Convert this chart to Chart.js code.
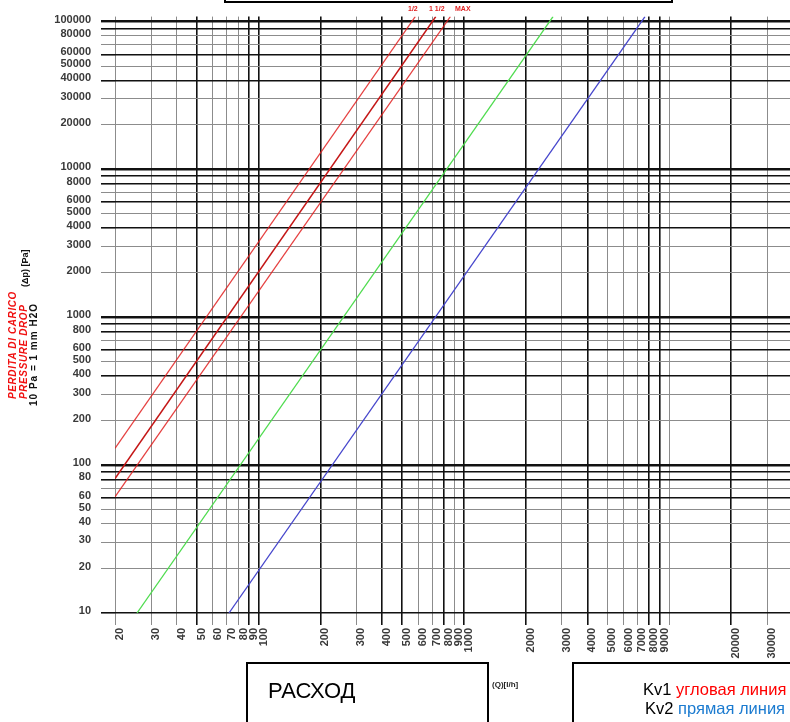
<!DOCTYPE html>
<html>
<head>
<meta charset="utf-8">
<script src="https://cdn.jsdelivr.net/npm/chart.js@4.4.0/dist/chart.umd.min.js"></script>
<style>
  body { margin: 0; background: #fff; font-family: "Liberation Sans", Arial, sans-serif; }
  #wrap { position: relative; width: 790px; height: 722px; overflow: hidden; }
  #chartBox { position: absolute; left: 0; top: 0; width: 790px; height: 722px; }
  .box { position: absolute; border: 2px solid #000; background: #fff; box-sizing: border-box; }
  .abs { position: absolute; white-space: nowrap; }
  .rot { transform-origin: 0 0; transform: rotate(-90deg); }
</style>
</head>
<body>
<div id="wrap">
  <div id="chartBox"><canvas id="myChart"></canvas></div>

  <div class="box" style="left:224px; top:-20px; width:449px; height:23px;"></div>
  <div class="abs" style="left:408px; top:5px; font:bold 7px 'Liberation Sans'; color:#e02020;">1/2</div>
  <div class="abs" style="left:429px; top:5px; font:bold 7px 'Liberation Sans'; color:#e02020;">1 1/2</div>
  <div class="abs" style="left:455px; top:5px; font:bold 7px 'Liberation Sans'; color:#e02020;">MAX</div>

  <div class="abs rot" style="left:8px; top:399px; font:italic bold 10px/10.5px 'Liberation Sans'; letter-spacing:0.6px;">
    <div style="color:#f01010;">PERDITA DI CARICO</div>
    <div style="color:#f01010;">PRESSURE DROP</div>
    <div style="color:#111; font-style:normal; letter-spacing:1px; margin-left:-7px;">10 Pa = 1 mm H2O</div>
  </div>
  <div class="abs rot" style="left:20px; top:287px; font:bold 9px 'Liberation Sans'; color:#111;">(Δp) [Pa]</div>

  <div class="box" style="left:246px; top:662px; width:243px; height:80px;"></div>
  <div class="abs" style="left:268px; top:678px; font:22px 'Liberation Sans'; color:#000;">РАСХОД</div>
  <div class="abs" style="left:492px; top:680px; font:bold 8px 'Liberation Sans'; color:#222;">(Q)[l/h]</div>

  <div class="box" style="left:572px; top:662px; width:240px; height:80px;"></div>
  <div class="abs" style="left:643px; top:680px; font:16.5px 'Liberation Sans'; color:#000;">Kv1 <span style="color:#ff0000;">угловая линия</span></div>
  <div class="abs" style="left:645px; top:699px; font:16.5px 'Liberation Sans'; color:#000;">Kv2 <span style="color:#1b7bd0;">прямая линия</span></div>
</div>

<script>
// flow Q [l/h] and pressure drop dp [Pa], read at both ends of each line
const lineNames = ["1/2", "1 1/2", "MAX", "green", "blue"];
const flowStart = [20, 20, 20, 25.6, 71.8];
const flowEnd = [580, 730, 860, 2720, 7630];
const dropStart = [130, 81, 61, 10, 10];
const dropEnd = [108000, 108000, 108000, 108000, 108000];
const lineColors = ["rgba(225,30,30,0.85)", "#c41616", "rgba(225,30,30,0.85)", "#4fdc4f", "#4646cc"];
const lineWidths = [1.2, 1.6, 1.2, 1.3, 1.3];

const xTickLabels = [20, 30, 40, 50, 60, 70, 80, 90, 100, 200, 300, 400, 500, 600, 700, 800, 900, 1000,
  2000, 3000, 4000, 5000, 6000, 7000, 8000, 9000, 20000, 30000];
const yTickLabels = [10, 20, 30, 40, 50, 60, 80, 100, 200, 300, 400, 500, 600, 800, 1000,
  2000, 3000, 4000, 5000, 6000, 8000, 10000, 20000, 30000, 40000, 50000, 60000, 80000, 100000];

const xBold = [50, 90, 100, 200, 400, 500, 800, 1000, 2000, 4000, 8000, 9000, 20000];
const yBold = [10, 60, 80, 90, 100, 400, 600, 800, 900, 1000, 4000, 6000, 8000, 9000, 10000,
  40000, 60000, 90000, 100000];
const yDecades = [100, 1000, 10000, 100000];

// grid lines at every 1..9 step of each decade
const xGrid = [];
for (let e = 1; e <= 4; e++) {
  for (let m = 1; m <= 9; m++) {
    const v = m * Math.pow(10, e);
    if (v >= 20 && v <= 30000) xGrid.push(v);
  }
}
const yGrid = [];
for (let e = 1; e <= 5; e++) {
  for (let m = 1; m <= 9; m++) {
    const v = m * Math.pow(10, e);
    if (v <= 100000) yGrid.push(v);
  }
}

const datasets = lineNames.map((name, i) => ({
  label: name,
  data: [{ x: flowStart[i], y: dropStart[i] }, { x: flowEnd[i], y: dropEnd[i] }],
  borderColor: lineColors[i],
  borderWidth: lineWidths[i],
  pointRadius: 0,
  tension: 0
}));

const tickFont = { family: "Liberation Sans", size: 11, weight: "bold" };

new Chart("myChart", {
  type: "line",
  data: { datasets: datasets },
  options: {
    responsive: true,
    maintainAspectRatio: false,
    animation: false,
    layout: { padding: { top: 13, left: 0, right: 0, bottom: 0 } },
    plugins: { legend: { display: false }, tooltip: { enabled: false } },
    scales: {
      x: {
        type: "logarithmic",
        min: 20,
        max: 38800,
        afterBuildTicks: s => { s.ticks = xGrid.map(v => ({ value: v })); },
        afterFit: s => { s.height = 109; },
        border: { display: false },
        grid: {
          color: c => xBold.includes(c.tick.value) ? "#111" : "#8c8c8c",
          tickColor: c => xBold.includes(c.tick.value) ? "#111" : "#8c8c8c",
          lineWidth: c => xBold.includes(c.tick.value) ? 1.6 : 1,
          tickLength: 12
        },
        ticks: {
          autoSkip: false,
          minRotation: 90,
          maxRotation: 90,
          labelOffset: 5,
          padding: 3,
          color: "#3a3a3a",
          font: tickFont,
          callback: v => xTickLabels.includes(v) ? String(v) : ""
        }
      },
      y: {
        type: "logarithmic",
        min: 10,
        max: 108000,
        afterBuildTicks: s => { s.ticks = yGrid.map(v => ({ value: v })); },
        afterFit: s => { s.width = 115; },
        border: { display: false },
        grid: {
          color: c => yBold.includes(c.tick.value) ? "#111" : "#8c8c8c",
          tickColor: c => yBold.includes(c.tick.value) ? "#111" : "#8c8c8c",
          lineWidth: c => yDecades.includes(c.tick.value) ? 2.4 : (yBold.includes(c.tick.value) ? 1.6 : 1),
          tickLength: 14
        },
        ticks: {
          autoSkip: false,
          labelOffset: -2,
          padding: 10,
          color: "#3a3a3a",
          font: tickFont,
          callback: v => yTickLabels.includes(v) ? String(v) : ""
        }
      }
    }
  }
});
</script>
</body>
</html>
